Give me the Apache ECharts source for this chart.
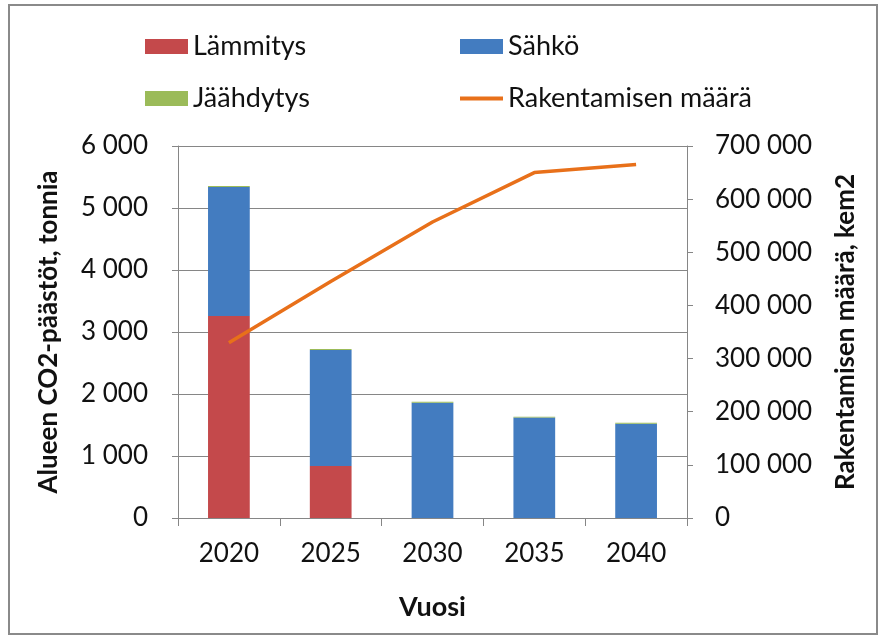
<!DOCTYPE html>
<html>
<head>
<meta charset="utf-8">
<script src="https://cdn.jsdelivr.net/npm/echarts@6/dist/echarts.min.js"></script>
<style>
  html, body { margin: 0; padding: 0; background: #fff; }
  #chart { width: 879px; height: 641px; }
</style>
</head>
<body>
<div id="chart"></div>
<script>
// data
const years = ['2020', '2025', '2030', '2035', '2040']
const lammitys = [3260, 840, 0, 0, 0]
const sahko = [2080, 1870, 1860, 1620, 1520]
const jaahdytys = [15, 15, 15, 15, 15]
const rakentaminen = [330000, 445000, 557000, 650000, 665000]

const fmt = v => String(v).replace(/\B(?=(\d{3})+(?!\d))/g, ' ')
const font = 'Lato'
const axisGray = '#868686'

const chart = echarts.init(document.getElementById('chart'))

const legendBase = {
  itemWidth: 43,
  itemHeight: 15,
  itemGap: 4,
  icon: 'rect',
  textStyle: { fontFamily: font, fontSize: 27, color: '#111' },
  selectedMode: false
}

const option = {
  backgroundColor: '#fff',
  animation: false,
  textStyle: { fontFamily: font },
  graphic: [{
    type: 'rect',
    shape: { x: 9, y: 5, width: 868, height: 629 },
    style: { fill: 'none', stroke: '#8a8a8a', lineWidth: 2 }
  }],
  legend: [
    Object.assign({}, legendBase, { data: ['Lämmitys'], left: 140, top: 28 }),
    Object.assign({}, legendBase, { data: ['Sähkö'], left: 455, top: 28 }),
    Object.assign({}, legendBase, { data: ['Jäähdytys'], left: 140, top: 80 }),
    Object.assign({}, legendBase, { data: ['Rakentamisen määrä'], left: 455, top: 80, itemHeight: 4 })
  ],
  grid: { left: 178, right: 192, top: 146, bottom: 123 },
  xAxis: {
    type: 'category',
    data: years,
    name: 'Vuosi',
    nameLocation: 'middle',
    nameGap: 76,
    nameTextStyle: { fontFamily: font, fontSize: 27, fontWeight: 'bold', color: '#111' },
    axisLine: { lineStyle: { color: axisGray } },
    axisTick: { show: true, length: 8, lineStyle: { color: axisGray } },
    axisLabel: { margin: 23, fontFamily: font, fontSize: 26, color: '#111' }
  },
  yAxis: [
    {
      type: 'value',
      min: 0,
      max: 6000,
      interval: 1000,
      name: 'Alueen CO2-päästöt, tonnia',
      nameLocation: 'middle',
      nameRotate: 90,
      nameGap: 116,
      nameTextStyle: { fontFamily: font, fontSize: 26, fontWeight: 'bold', color: '#111' },
      axisLine: { show: true, lineStyle: { color: axisGray } },
      axisTick: { show: true, length: 6, lineStyle: { color: axisGray } },
      axisLabel: { margin: 30, fontFamily: font, fontSize: 26, color: '#111', formatter: fmt },
      splitLine: { lineStyle: { color: axisGray } }
    },
    {
      type: 'value',
      min: 0,
      max: 700000,
      interval: 100000,
      position: 'right',
      name: 'Rakentamisen määrä, kem2',
      nameLocation: 'middle',
      nameRotate: 90,
      nameGap: 146,
      nameTextStyle: { fontFamily: font, fontSize: 26, fontWeight: 'bold', color: '#111' },
      axisLine: { show: true, lineStyle: { color: axisGray } },
      axisTick: { show: true, length: 6, lineStyle: { color: axisGray } },
      axisLabel: { margin: 28, fontFamily: font, fontSize: 26, color: '#111', formatter: fmt },
      splitLine: { show: false }
    }
  ],
  series: [
    {
      name: 'Lämmitys',
      type: 'bar',
      stack: 'co2',
      barWidth: '41%',
      data: lammitys,
      itemStyle: { color: '#C4494B' }
    },
    {
      name: 'Sähkö',
      type: 'bar',
      stack: 'co2',
      data: sahko,
      itemStyle: { color: '#437CC0' }
    },
    {
      name: 'Jäähdytys',
      type: 'bar',
      stack: 'co2',
      data: jaahdytys,
      itemStyle: { color: '#9BBB59' }
    },
    {
      name: 'Rakentamisen määrä',
      type: 'line',
      yAxisIndex: 1,
      data: rakentaminen,
      symbol: 'none',
      lineStyle: { color: '#E8701A', width: 3.5 },
      itemStyle: { color: '#E8701A' }
    }
  ]
}

chart.setOption(option)
</script>
</body>
</html>
